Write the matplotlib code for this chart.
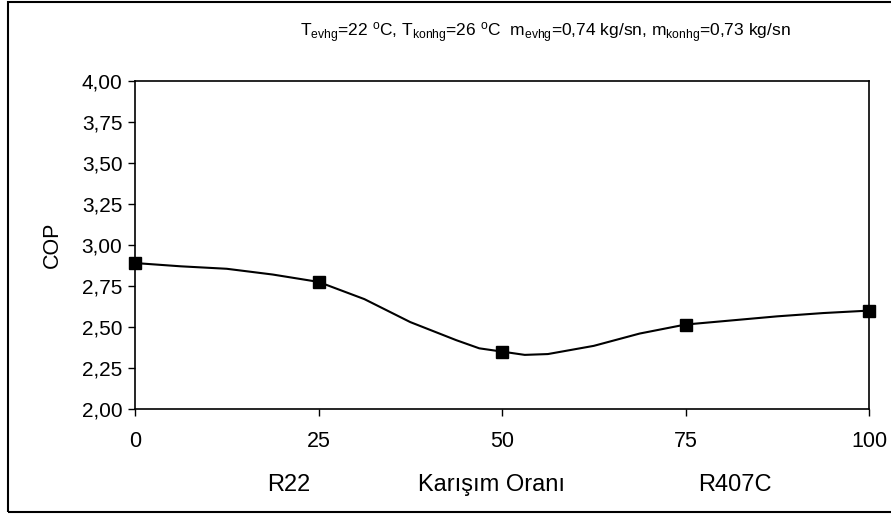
import matplotlib.pyplot as plt
from matplotlib.patches import Rectangle

plt.rcParams['font.family'] = ['Liberation Sans', 'DejaVu Sans']
plt.rcParams['mathtext.fontset'] = 'custom'
plt.rcParams['mathtext.rm'] = 'Liberation Sans'
plt.rcParams['mathtext.it'] = 'Liberation Sans'

# measured points (markers)
oran = [0, 25, 50, 75, 100]
cop = [2.89, 2.775, 2.35, 2.515, 2.60]

# smoothed curve
oran_line = [0, 6.25, 12.5, 18.75, 25, 31.25, 37.5, 43.75, 46.9, 50, 53.1,
             56.25, 62.5, 68.75, 75, 81.25, 87.5, 93.75, 100]
cop_line = [2.89, 2.87, 2.855, 2.82, 2.775, 2.67, 2.53, 2.42, 2.37, 2.35, 2.33,
            2.335, 2.385, 2.46, 2.515, 2.54, 2.565, 2.585, 2.60]

xticks = [0, 25, 50, 75, 100]
yticks = [2.00, 2.25, 2.50, 2.75, 3.00, 3.25, 3.50, 3.75, 4.00]
ytick_labels = ['%.2f' % v for v in yticks]
ytick_labels = [s.replace('.', ',') for s in ytick_labels]

W, H = 891, 516
fig = plt.figure(figsize=(W / 100, H / 100), dpi=100)
ax = fig.add_axes([135 / W, 1 - 409 / H, (869 - 135) / W, (409 - 81) / H])

ax.plot(oran_line, cop_line, color='black', lw=1.5, clip_on=False)
ax.plot(oran, cop, linestyle='none', marker='s', ms=8.5, color='black',
        clip_on=False, zorder=3)

ax.set_xlim(0, 100)
ax.set_ylim(2, 4)
ax.set_xticks(xticks)
ax.set_yticks(yticks)
ax.set_yticklabels(ytick_labels)
ax.tick_params(axis='both', direction='out', length=5, width=1,
               colors='black')
ax.tick_params(axis='x', pad=11, labelsize=15.5)
ax.tick_params(axis='y', pad=4, labelsize=15)
for sp in ax.spines.values():
    sp.set_linewidth(1.2)
    sp.set_color('black')

fig.text(52 / W, 1 - 245 / H, 'COP', rotation=90, ha='center', va='center',
         fontsize=15.5)
fig.text(289 / W, 1 - 485 / H, 'R22', ha='center', va='center', fontsize=17)
fig.text(491 / W, 1 - 485 / H, 'Karışım Oranı', ha='center', va='center',
         fontsize=17)
fig.text(735 / W, 1 - 485 / H, 'R407C', ha='center', va='center', fontsize=17)

title = (r'T$_{\rm evhg}$=22 $^{\rm o}$C, T$_{\rm konhg}$=26 $^{\rm o}$C  '
         r'm$_{\rm evhg}$=0,74 kg/sn, m$_{\rm konhg}$=0,73 kg/sn')
fig.text(300 / W, 1 - 33 / H, title, ha='left', va='center', fontsize=12.5)

# outer frame of the chart area
fig.patches.append(Rectangle((8 / W, 1 - 512 / H), (W - 8 + 10) / W,
                             (512 - 2) / H, transform=fig.transFigure,
                             fill=False, edgecolor='black', lw=1.5))

fig.savefig('out.png', dpi=100)
